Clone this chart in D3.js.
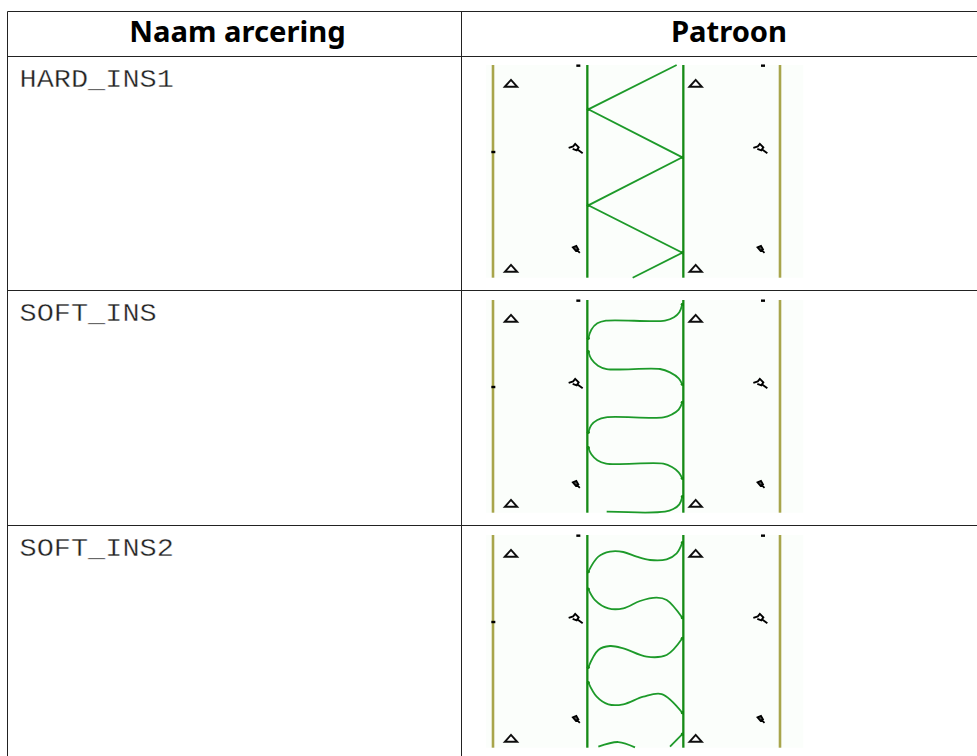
<!DOCTYPE html>
<html>
<head>
<meta charset="utf-8">
<script src="https://cdn.jsdelivr.net/npm/d3@7"></script>
<style>
  html, body { margin: 0; padding: 0; background: #fff; overflow: hidden; }
</style>
</head>
<body>
<div id="chart"></div>
<script>
// Table content
const headers = ["Naam arcering", "Patroon"];
const hatchNames = ["HARD_INS1", "SOFT_INS", "SOFT_INS2"];

// Hatch drawings, read in pattern units (1/3 px of the picture)
const hardIns = [
  [[590, 45], [325, 178], [607, 322], [325, 466], [607, 608], [458, 683]],
];
const softIns = [
  [[607, 58], [598, 82], [582, 97], [555, 107], [378, 107], [352, 115], [334, 134], [325, 160]],
  [[325, 200], [334, 222], [354, 242], [380, 252], [540, 252], [570, 262], [596, 280], [607, 298]],
  [[607, 352], [596, 374], [576, 388], [550, 397], [378, 397], [352, 405], [334, 420], [325, 442]],
  [[325, 488], [334, 508], [352, 526], [378, 536], [550, 536], [576, 546], [596, 562], [607, 580]],
  [[607, 635], [598, 658], [580, 672], [555, 680], [380, 680]],
];
const softIns2 = [
  [[607, 68], [590, 100], [560, 118], [510, 120], [470, 110], [430, 96], [390, 95], [355, 110], [325, 155]],
  [[325, 207], [345, 240], [385, 265], [430, 265], [480, 243], [530, 233], [560, 240], [607, 293]],
  [[607, 355], [560, 405], [500, 410], [430, 385], [390, 378], [355, 390], [325, 442]],
  [[325, 488], [350, 530], [385, 553], [430, 553], [490, 530], [545, 522], [607, 578]],
  [[607, 642], [570, 680]],
  [[355, 680], [415, 666], [465, 682]],
];
const hatchCurves = [hardIns, softIns, softIns2];
const hatchCurveType = [d3.curveLinear, d3.curveCatmullRom, d3.curveCatmullRom];

// Common to all three patterns
const oliveLines = [39, 900];
const greenLines = [322, 610];
const triangles = [[93, 100], [647, 100], [93, 655], [647, 655]];
const bigKeys = [[287, 295], [841, 295]];
const smallKeys = [[289, 598], [843, 598]];
const ticks = [[295, 47], [849, 47], [40, 306]];

const width = 977;
const height = 756;

const svg = d3
  .select("#chart")
  .append("svg")
  .attr("width", width)
  .attr("height", height)
  .style("display", "block");

svg
  .append("defs")
  .append("filter")
  .attr("id", "soft")
  .append("feGaussianBlur")
  .attr("stdDeviation", 0.45);

// Table grid
const columnEdges = [7.5, 461.5, 977];
const rowEdges = [11.5, 56.5, 290.5, 525.5, 757];

const grid = svg.append("g").attr("stroke", "#222").attr("stroke-width", 1);
rowEdges.slice(0, 4).forEach((y) => {
  grid.append("line").attr("x1", columnEdges[0]).attr("x2", width).attr("y1", y).attr("y2", y);
});
columnEdges.slice(0, 2).forEach((x) => {
  grid.append("line").attr("x1", x).attr("x2", x).attr("y1", rowEdges[0]).attr("y2", height);
});

// Header
svg
  .selectAll("text.header")
  .data(headers)
  .enter()
  .append("text")
  .attr("class", "header")
  .attr("x", (d, i) => [237.5, 729][i])
  .attr("y", 41.7)
  .attr("text-anchor", "middle")
  .attr("font-family", "'Noto Sans'")
  .attr("font-weight", "bold")
  .attr("font-size", 29.2)
  .attr("fill", "#000")
  .text((d) => d);

// Hatch names, stretched to the wide typewriter cell of the original
const cellWidth = 17.15;
svg
  .selectAll("text.name")
  .data(hatchNames)
  .enter()
  .append("text")
  .attr("class", "name")
  .attr("x", 19.5)
  .attr("y", (d, i) => rowEdges[i + 1] + 30.2)
  .attr("textLength", (d) => d.length * cellWidth)
  .attr("lengthAdjust", "spacingAndGlyphs")
  .attr("font-family", "'Liberation Mono'")
  .attr("font-size", 25)
  .attr("fill", "#222")
  .attr("stroke", "#fff")
  .attr("stroke-width", 0.35)
  .text((d) => d);

// Pattern scales
const xscale = d3.scaleLinear().domain([0, 990]).range([480, 810]);
const yscale = d3.scaleLinear().domain([45, 683]).range([0, 212.7]);
const patternTops = [65, 300, 535];

function drawPattern(i) {
  const curves = hatchCurves[i];
  const g = svg
    .append("g")
    .attr("transform", `translate(0,${patternTops[i]})`)
    .attr("filter", "url(#soft)");

  g.append("rect")
    .attr("x", xscale(18))
    .attr("y", yscale(45))
    .attr("width", xscale(970) - xscale(18))
    .attr("height", yscale(683) - yscale(45))
    .attr("fill", "#fbfefb");

  g.selectAll("line.olive")
    .data(oliveLines)
    .enter()
    .append("line")
    .attr("x1", (d) => xscale(d))
    .attr("x2", (d) => xscale(d))
    .attr("y1", yscale(45))
    .attr("y2", yscale(683))
    .attr("stroke", "#a8a54c")
    .attr("stroke-width", 2.6);

  g.selectAll("line.green")
    .data(greenLines)
    .enter()
    .append("line")
    .attr("x1", (d) => xscale(d))
    .attr("x2", (d) => xscale(d))
    .attr("y1", yscale(45))
    .attr("y2", yscale(683))
    .attr("stroke", "#128a12")
    .attr("stroke-width", 2.3);

  const line = d3
    .line()
    .x((d) => xscale(d[0]))
    .y((d) => yscale(d[1]))
    .curve(hatchCurveType[i]);

  g.selectAll("path.hatch")
    .data(curves)
    .enter()
    .append("path")
    .attr("d", line)
    .attr("fill", "none")
    .attr("stroke", "#1f9a2a")
    .attr("stroke-width", 1.8);

  // joints where the hatch meets the green lines
  const joints = curves.flatMap((c) => c.filter((p) => greenLines.some((x) => Math.abs(p[0] - x) < 10)));
  g.selectAll("circle.joint")
    .data(joints)
    .enter()
    .append("circle")
    .attr("cx", (d) => xscale(d[0]))
    .attr("cy", (d) => yscale(d[1]))
    .attr("r", 1.6)
    .attr("fill", "#128a12");

  // small triangles
  g.selectAll("path.tri")
    .data(triangles)
    .enter()
    .append("path")
    .attr("transform", (d) => `translate(${xscale(d[0])},${yscale(d[1])})`)
    .attr("d", "M-6.2,3.4 L0,-3.4 L6.2,3.4 Z")
    .attr("fill", "#fff")
    .attr("stroke", "#111")
    .attr("stroke-width", 1.9);

  // key shaped marks
  g.selectAll("path.bigkey")
    .data(bigKeys)
    .enter()
    .append("path")
    .attr("transform", (d) => `translate(${xscale(d[0])},${yscale(d[1])})`)
    .attr("d", "M-7,-0.5 L-2.5,-2 L-0.5,-4.5 L3,-1 L1,2 L-3,0.5 M1.5,1 L7,5")
    .attr("fill", "#fff")
    .attr("stroke", "#000")
    .attr("stroke-width", 1.9);

  g.selectAll("path.smallkey")
    .data(smallKeys)
    .enter()
    .append("path")
    .attr("transform", (d) => `translate(${xscale(d[0])},${yscale(d[1])})`)
    .attr("d", "M-3.5,-2 L0,-3.5 L2,0 L-0.5,1.5 Z M0.5,0.5 L3.5,3.5")
    .attr("fill", "#555")
    .attr("stroke", "#000")
    .attr("stroke-width", 1.8);

  g.selectAll("rect.tick")
    .data(ticks)
    .enter()
    .append("rect")
    .attr("x", (d) => xscale(d[0]) - 2)
    .attr("y", (d) => yscale(d[1]) - 1.2)
    .attr("width", 4)
    .attr("height", 2.4)
    .attr("fill", "#000");
}

hatchNames.forEach((d, i) => drawPattern(i));
</script>
</body>
</html>
